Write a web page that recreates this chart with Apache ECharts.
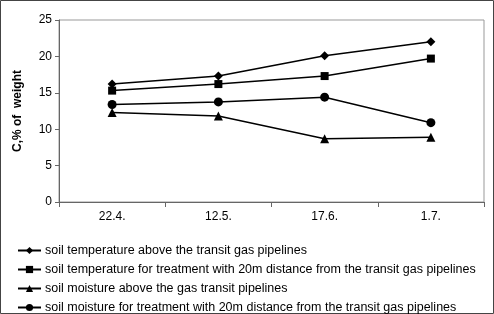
<!DOCTYPE html>
<html>
<head>
<meta charset="utf-8">
<title>soil</title>
<script src="https://cdn.jsdelivr.net/npm/echarts@6/dist/echarts.min.js"></script>
<style>
  html, body { margin: 0; padding: 0; background: #fff; }
  #main { width: 494px; height: 314px; }
</style>
</head>
<body>
<div id="main"></div>
<script>
// dates of sampling
var categories = ['22.4.', '12.5.', '17.6.', '1.7.'];
var tempAbove = [16.2, 17.3, 20.1, 22.0];
var temp20m = [15.3, 16.2, 17.3, 19.7];
var moistAbove = [12.3, 11.8, 8.7, 8.9];
var moist20m = [13.4, 13.75, 14.4, 10.9];
var yTicks = [0, 5, 10, 15, 20, 25];

var names = [
  'soil temperature above the transit gas pipelines',
  'soil temperature for treatment with 20m distance from the transit gas pipelines',
  'soil moisture above the gas transit pipelines',
  'soil moisture for treatment with 20m distance from the transit gas pipelines'
];

function mkSeries(name, data, symbol, size) {
  return {
    name: name,
    type: 'line',
    data: data,
    symbol: symbol,
    symbolSize: size,
    lineStyle: { color: '#000', width: 1.5 },
    itemStyle: { color: '#000' },
    emphasis: { disabled: true },
    animation: false
  };
}

var myChart = echarts.init(document.getElementById('main'));
var option = {
  animation: false,
  textStyle: { fontFamily: 'Liberation Sans, Arial, sans-serif' },
  graphic: [{
    type: 'rect',
    shape: { x: 0.5, y: 0.5, width: 493, height: 313 },
    style: { fill: 'none', stroke: '#444', lineWidth: 1 },
    silent: true
  }],
  grid: {
    left: 59, right: 10, top: 20, bottom: 112,
    show: true, borderColor: '#999', borderWidth: 1
  },
  legend: {
    orient: 'vertical',
    left: 17,
    top: 244,
    height: 100,
    padding: 0,
    itemWidth: 23,
    itemHeight: 9,
    itemGap: 6,
    textStyle: { fontSize: 12.5, color: '#000', padding: [0, 0, 0, -1] },
    data: names
  },
  xAxis: {
    type: 'category',
    data: categories,
    boundaryGap: true,
    axisLine: { lineStyle: { color: '#666' } },
    axisTick: { show: true, length: 5, lineStyle: { color: '#666' } },
    axisLabel: { color: '#000', fontSize: 12, margin: 9 }
  },
  yAxis: {
    type: 'value',
    min: yTicks[0],
    max: yTicks[yTicks.length - 1],
    interval: 5,
    name: 'C,% of  weight',
    nameLocation: 'middle',
    nameRotate: 90,
    nameGap: 35,
    nameTextStyle: { fontWeight: 'bold', fontSize: 12, color: '#000' },
    splitLine: { show: false },
    axisLine: { show: true, lineStyle: { color: '#666' } },
    axisTick: { show: true, length: 4, lineStyle: { color: '#666' } },
    axisLabel: { color: '#000', fontSize: 12, margin: 7 }
  },
  series: [
    mkSeries(names[0], tempAbove, 'diamond', 9),
    mkSeries(names[1], temp20m, 'rect', 8),
    mkSeries(names[2], moistAbove, 'triangle', 9),
    mkSeries(names[3], moist20m, 'circle', 9)
  ]
};
myChart.setOption(option);
</script>
</body>
</html>
